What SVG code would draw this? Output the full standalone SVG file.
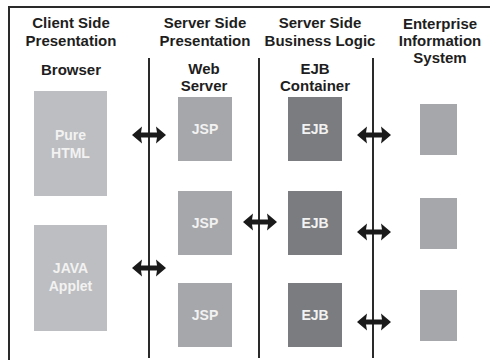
<svg xmlns="http://www.w3.org/2000/svg" width="490" height="360" viewBox="0 0 490 360">
<style>
.h{font-family:"Liberation Sans",Arial,sans-serif;font-weight:bold;font-size:15px;fill:#1e1e1e;text-anchor:middle}
.t{font-family:"Liberation Sans",Arial,sans-serif;font-weight:bold;font-size:14px;fill:#f2f2f2;text-anchor:middle}
.lt{fill:#bdbec1}
.md{fill:#a6a7aa}
.dk{fill:#7b7c80}
.ln{stroke:#2a2a2a;stroke-width:2;fill:none}
.ar{fill:#1a1a1a}
</style>
<defs>
<path id="dbl" d="M-17,0 L-7,-8.5 L-8,-2.5 L8,-2.5 L7,-8.5 L17,0 L7,8.5 L8,2.5 L-8,2.5 L-7,8.5 Z"/>
</defs>
<rect width="490" height="360" fill="#ffffff"/>
<path class="ln" d="M9,360 V7 H490"/>
<g id="headings">
<text class="h" x="71" y="28">Client Side</text>
<text class="h" x="71" y="46">Presentation</text>
<text class="h" x="71" y="75">Browser</text>
<text class="h" x="205" y="28">Server Side</text>
<text class="h" x="205" y="46">Presentation</text>
<text class="h" x="204" y="74">Web</text>
<text class="h" x="204" y="91">Server</text>
<text class="h" x="320" y="28">Server Side</text>
<text class="h" x="320" y="46">Business Logic</text>
<text class="h" x="315" y="74">EJB</text>
<text class="h" x="315" y="91">Container</text>
<text class="h" x="440" y="29">Enterprise</text>
<text class="h" x="440" y="46">Information</text>
<text class="h" x="440" y="63">System</text>
</g>
<g id="tiers">
<line class="ln" x1="149" y1="58" x2="149" y2="358"/>
<line class="ln" x1="259" y1="58" x2="259" y2="358"/>
<line class="ln" x1="373" y1="58" x2="373" y2="358"/>
</g>
<g id="pure-html"><rect class="lt" x="34" y="91" width="73" height="105"/><text class="t" x="70.5" y="140">Pure</text><text class="t" x="70.5" y="158">HTML</text></g>
<g id="java-applet"><rect class="lt" x="34" y="225" width="73" height="106"/><text class="t" x="70.5" y="273">JAVA</text><text class="t" x="70.5" y="291">Applet</text></g>
<g id="jsp1"><rect class="md" x="178" y="97" width="54" height="64"/><text class="t" x="205" y="134">JSP</text></g>
<g id="jsp2"><rect class="md" x="178" y="191" width="54" height="64"/><text class="t" x="205" y="228">JSP</text></g>
<g id="jsp3"><rect class="md" x="178" y="283" width="54" height="64"/><text class="t" x="205" y="320">JSP</text></g>
<g id="ejb1"><rect class="dk" x="288" y="97" width="54" height="64"/><text class="t" x="315" y="134">EJB</text></g>
<g id="ejb2"><rect class="dk" x="288" y="191" width="54" height="64"/><text class="t" x="315" y="228">EJB</text></g>
<g id="ejb3"><rect class="dk" x="288" y="283" width="54" height="64"/><text class="t" x="315" y="320">EJB</text></g>
<g id="eis1"><rect class="md" x="420" y="104" width="37" height="51"/></g>
<g id="eis2"><rect class="md" x="420" y="198" width="37" height="51"/></g>
<g id="eis3"><rect class="md" x="420" y="290" width="37" height="51"/></g>
<g id="connectors" class="ar">
<use href="#dbl" x="149" y="135"/>
<use href="#dbl" x="149" y="268"/>
<use href="#dbl" x="260" y="222"/>
<use href="#dbl" x="374" y="135"/>
<use href="#dbl" x="374" y="232"/>
<use href="#dbl" x="374" y="322"/>
</g>
</svg>
